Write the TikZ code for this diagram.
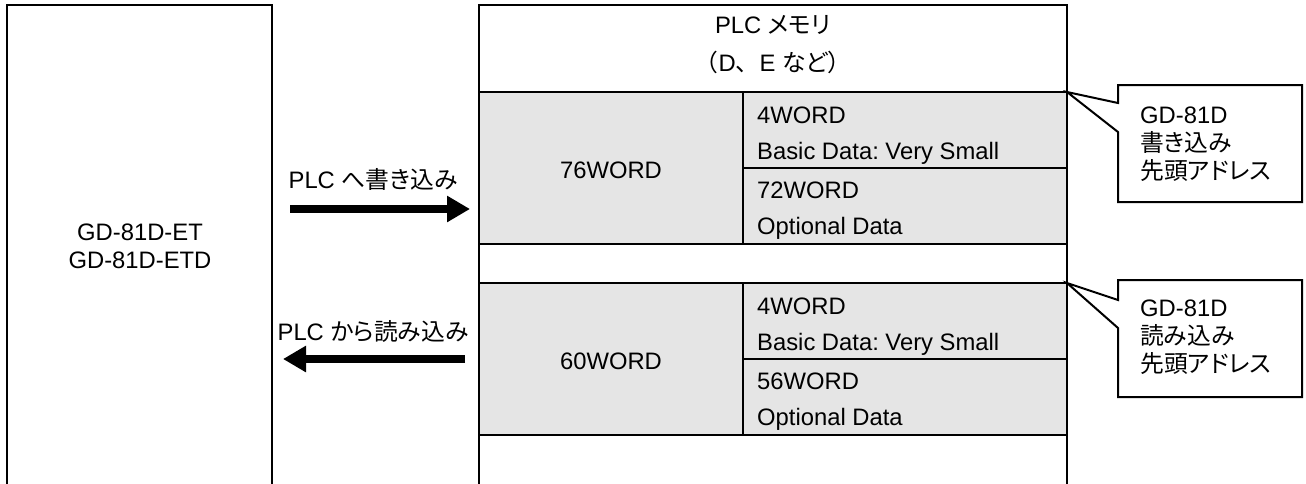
\documentclass[tikz,border=0pt]{standalone}
\usepackage{fontspec}
\setmainfont{Liberation Sans}
\newfontfamily\jp[RawFeature=+palt]{Noto Sans CJK JP}
\newfontfamily\jpf{Noto Sans CJK JP}
\usetikzlibrary{arrows.meta}
\definecolor{cellgray}{HTML}{E5E5E5}
\frenchspacing
\tikzset{
  frame/.style={line width=2pt, line join=miter},
  txt/.style={font=\fontsize{23.8}{28}\selectfont, inner sep=0pt},
  lt/.style={txt, anchor=base west},
  ct/.style={txt, anchor=base},
  bigarrow/.style={line width=8pt, -{Triangle[length=23pt,width=25pt]}},
  callout/.style={frame, fill=white}
}
\begin{document}
\begin{tikzpicture}[x=1pt,y=-1pt]
\useasboundingbox (0,0) rectangle (1306,483);
% gray blocks
\fill[cellgray] (479,92) rectangle (1067,244);
\fill[cellgray] (479,283) rectangle (1067,435);
% left device box
\draw[frame] (7,484) -- (7,5) -- (272,5) -- (272,484);
% memory box
\draw[frame] (479,484) -- (479,5) -- (1067,5) -- (1067,484);
\foreach \yy in {92,244,283,435} \draw[frame] (479,\yy) -- (1067,\yy);
\draw[frame] (743,92) -- (743,244);
\draw[frame] (743,283) -- (743,435);
\draw[frame] (743,168) -- (1067,168);
\draw[frame] (743,359) -- (1067,359);
% texts
\node[ct] (dev1) at (140,240) {GD-81D-ET};
\node[ct] (dev2) at (140,268) {GD-81D-ETD};
\node[ct] (mem1) at (773,33) {PLC {\jp メモリ}};
\node[ct] (mem2) at (773,71) {{\jpf （}D{\jpf 、}E {\jp など}{\jpf ）}};
\node[ct] (w76) at (611,178) {76WORD};
\node[lt] (w4a) at (757,123) {4WORD};
\node[lt] (bda) at (757,159) {Basic Data: Very Small};
\node[lt] (w72) at (757,198) {72WORD};
\node[lt] (oda) at (757,234) {Optional Data};
\node[ct] (w60) at (611,369) {60WORD};
\node[lt] (w4b) at (757,314) {4WORD};
\node[lt] (bdb) at (757,350) {Basic Data: Very Small};
\node[lt] (w56) at (757,389) {56WORD};
\node[lt] (odb) at (757,425) {Optional Data};
% arrows
\node[ct] (wlab) at (373,188) {PLC {\jp へ書き込み}};
\node[ct] (rlab) at (373,340) {PLC {\jp から読み込み}};
\coordinate (wa) at (290,209);
\coordinate (wb) at (470,209);
\coordinate (ra) at (465,359);
\coordinate (rb) at (283,359);
\draw[bigarrow] (wa) -- (wb);
\draw[bigarrow] (ra) -- (rb);
% callouts
\coordinate (tip1) at (1067,92);
\coordinate (tip2) at (1067,283);
\draw[callout] (1118,85) -- (1302,85) -- (1302,202) -- (1118,202) -- (1118,132) -- (tip1) -- (1118,103) -- cycle;
\draw[callout] (1118,280) -- (1302,280) -- (1302,397) -- (1118,397) -- (1118,328) -- (tip2) -- (1118,300) -- cycle;
\node[lt] (c1a) at (1140,123) {GD-81D};
\node[lt] (c1b) at (1140,151) {\jp 書き込み};
\node[lt] (c1c) at (1140,179) {\jp 先頭アドレス};
\node[lt] (c2a) at (1140,316) {GD-81D};
\node[lt] (c2b) at (1140,344) {\jp 読み込み};
\node[lt] (c2c) at (1140,372) {\jp 先頭アドレス};
\end{tikzpicture}
\end{document}
